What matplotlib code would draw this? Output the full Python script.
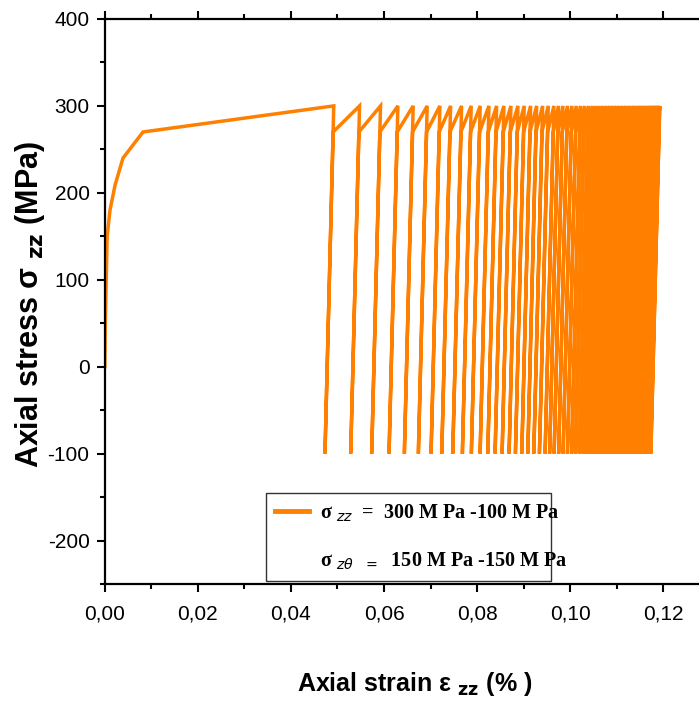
import numpy as np
import matplotlib
matplotlib.use('Agg')
import matplotlib.pyplot as plt
from matplotlib.lines import Line2D
from matplotlib.ticker import MultipleLocator, FuncFormatter

# ── Data ─────────────────────────────────────────────────────────────────────
# monotonic loading branch
load_strain = [0.0, 0.0001, 0.0005, 0.0011, 0.0022, 0.0039, 0.0082, 0.0492]
load_stress = [0.0, 50.0, 150.0, 180.0, 209.0, 240.0, 270.0, 300.0]

# strain at the bottom (-100 MPa) of every ratcheting cycle
valley_strain = [
    0.04731, 0.05284, 0.05735, 0.06108, 0.06437, 0.06738, 0.07011, 0.07241,
    0.07477, 0.07684, 0.07877, 0.08065, 0.08230, 0.08387, 0.08538, 0.08688,
    0.08824, 0.08961, 0.09090, 0.09219, 0.09340, 0.09462, 0.09559, 0.09656,
    0.09753, 0.09849, 0.09942, 0.10032, 0.10118, 0.10204, 0.10286, 0.10366,
    0.10445, 0.10523, 0.10598, 0.10671, 0.10742, 0.10811, 0.10877, 0.10942,
    0.11004, 0.11065, 0.11123, 0.11178, 0.11232, 0.11284, 0.11333, 0.11380,
    0.11426, 0.11469, 0.11510, 0.11548, 0.11585, 0.11620, 0.11652, 0.11682,
    0.11710, 0.11735,
]
sig_max = 300.0      # MPa
sig_min = -100.0     # MPa
sig_knee = 270.0     # reload point where ratcheting starts
elastic_range = 0.0019   # strain width of an unload/reload line
last_top_stress = 297.0

# ── Build the path ────────────────────────────────────────────────────────────
xs = list(load_strain)
ys = list(load_stress)
knee_frac = (sig_knee - sig_min) / (sig_max - sig_min)
for i, v in enumerate(valley_strain):
    if i > 0:
        xs.append(v + elastic_range); ys.append(sig_max)
    xs.append(v); ys.append(sig_min)
    if i < len(valley_strain) - 1:
        xs.append(v + elastic_range * knee_frac); ys.append(sig_knee)
    else:
        xs.append(v + elastic_range); ys.append(last_top_stress)

# ── Figure ────────────────────────────────────────────────────────────────────
sans = ['Liberation Sans', 'DejaVu Sans']
fig = plt.figure(figsize=(6.99, 7.03), dpi=100)
ax = fig.add_axes([0.150, 0.1693, 0.850, 0.8037])

orange = '#FF8000'
ax.plot(xs, ys, color=orange, lw=2.5, solid_joinstyle='miter')

ax.set_xlim(0, 0.1277)
ax.set_ylim(-250, 400)

ax.xaxis.set_major_locator(MultipleLocator(0.02))
ax.xaxis.set_minor_locator(MultipleLocator(0.01))
ax.yaxis.set_major_locator(MultipleLocator(100))
ax.yaxis.set_minor_locator(MultipleLocator(50))
ax.xaxis.set_major_formatter(FuncFormatter(lambda v, p: f'{v:.2f}'.replace('.', ',')))
ax.yaxis.set_major_formatter(FuncFormatter(lambda v, p: f'{v:.0f}'))

ax.tick_params(which='both', direction='out', width=1.5, top=True, right=False,
               labeltop=False)
ax.tick_params(which='major', length=6)
ax.tick_params(which='minor', length=3.5)
ax.tick_params(axis='x', pad=9)
ax.tick_params(axis='y', pad=5)
for sp in ('left', 'bottom', 'top'):
    ax.spines[sp].set_linewidth(1.6)
ax.spines['right'].set_visible(False)

for lab in ax.get_xticklabels() + ax.get_yticklabels():
    lab.set_family(sans)
    lab.set_fontsize(15)

ax.set_ylabel(r'Axial stress σ $_{\mathbf{zz}}$ (MPa)', fontsize=22,
              fontweight='bold', family=sans)
ax.yaxis.set_label_coords(-0.097, 0.494)
ax.set_xlabel(r'Axial strain ε $_{\mathbf{zz}}$ (% )', fontsize=18,
              fontweight='bold', family=sans)
ax.xaxis.set_label_coords(0.522, -0.152)

handles = [Line2D([], [], color=orange, lw=3.5),
           Line2D([], [], color='none')]
labels = [r'σ $_{zz}$  =  300 M Pa -100 M Pa',
          r'σ $_{z\theta}$  $_{=}$  150 M Pa -150 M Pa']
leg = ax.legend(handles, labels, loc='lower left',
                bbox_to_anchor=(0.271, 0.005, 0.48, 0.167), mode='expand',
                frameon=True, fancybox=False, edgecolor='black',
                borderaxespad=0, handlelength=1.7, handletextpad=0.55,
                labelspacing=1.35, borderpad=0.45,
                prop={'family': ['Liberation Serif', 'DejaVu Serif'],
                      'weight': 'bold', 'size': 14.5})
leg.get_frame().set_linewidth(1.0)

fig.savefig('out.png', dpi=100)
